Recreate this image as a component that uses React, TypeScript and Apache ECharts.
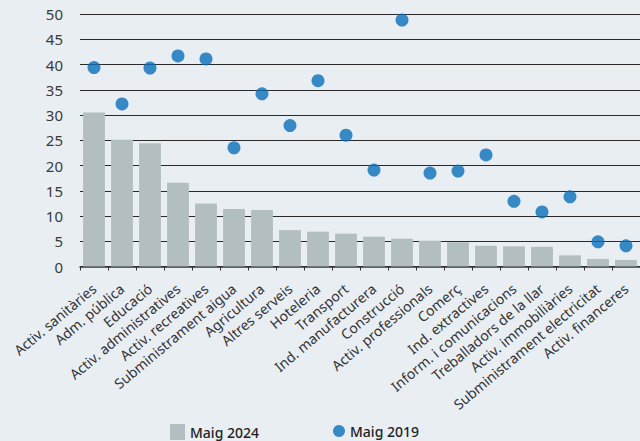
import React, { useEffect, useRef } from "react";
import * as echarts from "echarts";

const categories = [
  "Activ. sanitàries",
  "Adm. pública",
  "Educació",
  "Activ. administratives",
  "Activ. recreatives",
  "Subministrament aigua",
  "Agricultura",
  "Altres serveis",
  "Hoteleria",
  "Transport",
  "Ind. manufacturera",
  "Construcció",
  "Activ. professionals",
  "Comerç",
  "Ind. extractives",
  "Inform. i comunicacions",
  "Treballadors de la llar",
  "Activ. immobiliàries",
  "Subministrament electricitat",
  "Activ. financeres",
];

const maig2024 = [30.5, 25.1, 24.4, 16.6, 12.5, 11.4, 11.2, 7.2, 6.9, 6.5, 5.9, 5.5, 5.1, 4.8, 4.1, 4.0, 3.9, 2.2, 1.5, 1.3];
const maig2019 = [39.4, 32.2, 39.3, 41.7, 41.1, 23.5, 34.2, 27.9, 36.8, 26.0, 19.1, 48.8, 18.5, 18.9, 22.1, 12.9, 10.8, 13.8, 4.9, 4.1];

const seriesNames = ["Maig 2024", "Maig 2019"];
const yTicks = { min: 0, max: 50, interval: 5 };

const FONT = "'Noto Sans', 'Open Sans', sans-serif";

export default function App() {
  const ref = useRef<HTMLDivElement>(null);
  useEffect(() => {
    if (!ref.current) return;
    const chart = echarts.init(ref.current, null, { renderer: "svg" });
    chart.setOption({
      animation: false,
      backgroundColor: "#e9eef3",
      textStyle: { fontFamily: FONT },
      grid: { left: 80, top: 14, width: 562, height: 252.5, containLabel: false },
      legend: [
        {
          data: [{ name: seriesNames[0], icon: "rect" }],
          left: 170,
          top: 424,
          padding: 0,
          itemWidth: 15,
          itemHeight: 16,
          itemGap: 8,
          textStyle: { fontFamily: FONT, fontSize: 14, fontWeight: 500, color: "#222" },
        },
        {
          data: [{ name: seriesNames[1], icon: "circle" }],
          left: 333,
          top: 424,
          padding: 0,
          itemWidth: 12,
          itemHeight: 16,
          textStyle: { fontFamily: FONT, fontSize: 14, fontWeight: 500, color: "#222" },
        },
      ],
      xAxis: {
        type: "category",
        data: categories,
        boundaryGap: true,
        axisLine: { show: true, lineStyle: { color: "#333", width: 1.5 } },
        axisTick: { show: true, length: 4, alignWithLabel: false, lineStyle: { color: "#333" } },
        axisLabel: {
          interval: 0,
          rotate: 40,
          margin: 20,
          fontFamily: FONT,
          fontSize: 14,
          color: "#333",
        },
        splitLine: { show: false },
      },
      yAxis: {
        type: "value",
        min: yTicks.min,
        max: yTicks.max,
        interval: yTicks.interval,
        axisLine: { show: false },
        axisTick: { show: false },
        axisLabel: { margin: 17, fontFamily: FONT, fontSize: 15, color: "#3a3a3a" },
        splitLine: { show: true, lineStyle: { color: "#2a2a2a", width: 1 } },
      },
      series: [
        {
          name: seriesNames[0],
          type: "bar",
          data: maig2024,
          barCategoryGap: "22%",
          itemStyle: { color: "#b3bec1" },
          z: 2,
        },
        {
          name: seriesNames[1],
          type: "scatter",
          data: maig2019,
          symbol: "circle",
          symbolSize: 13,
          itemStyle: { color: "#0a6fba" },
          z: 3,
        },
      ],
    });
    return () => chart.dispose();
  }, []);
  return (
    <div
      ref={ref}
      style={{ position: "absolute", left: 0, top: 0, width: 640, height: 441 }}
    />
  );
}
